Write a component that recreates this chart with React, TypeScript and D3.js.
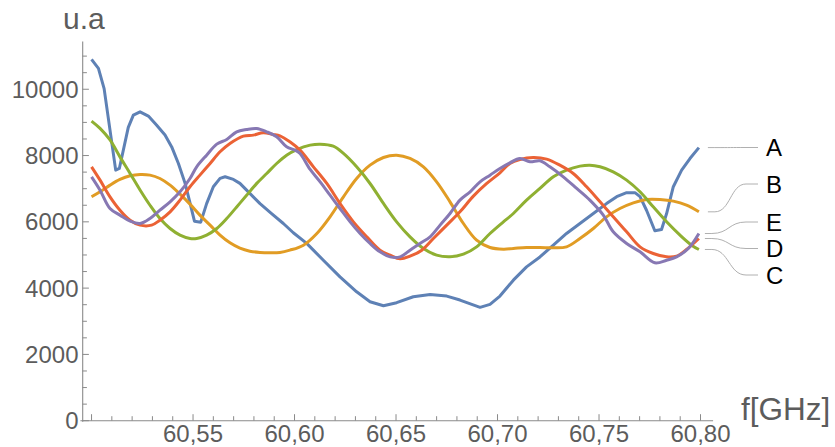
import React from "react";
import * as d3 from "d3";

// ---- data (f in GHz, value in u.a) ----
const seriesNames = ["A", "B", "C", "D", "E"];
const seriesColors = ["#5E81B5", "#E19C24", "#8FB032", "#EB6235", "#8778B3"];

const seriesA: [number, number][] = [
  [60.5, 10900], [60.5034, 10630], [60.5062, 10020], [60.5119, 7560], [60.5137, 7610],
  [60.5181, 8850], [60.5206, 9220], [60.5239, 9320], [60.528, 9190], [60.532, 8920],
  [60.5362, 8620], [60.5395, 8260], [60.5428, 7760], [60.5461, 7160], [60.5486, 6550],
  [60.5507, 6020], [60.5538, 5990], [60.5567, 6550], [60.56, 7060], [60.5633, 7310],
  [60.5658, 7360], [60.5699, 7280], [60.5731, 7160], [60.5781, 6850], [60.583, 6550],
  [60.5887, 6250], [60.5945, 5950], [60.5994, 5670], [60.606, 5350], [60.6142, 4840],
  [60.6224, 4340], [60.6306, 3890], [60.6372, 3590], [60.6438, 3470], [60.6503, 3560],
  [60.6585, 3740], [60.6668, 3810], [60.675, 3760], [60.6815, 3640], [60.6873, 3510],
  [60.6914, 3420], [60.6963, 3510], [60.7012, 3760], [60.7078, 4240], [60.7143, 4640],
  [60.7209, 4940], [60.7275, 5300], [60.734, 5650], [60.7406, 5950], [60.7472, 6250],
  [60.7537, 6550], [60.7587, 6760], [60.7636, 6880], [60.7677, 6880], [60.7702, 6760],
  [60.7734, 6350], [60.7775, 5730], [60.7808, 5770], [60.7833, 6250], [60.7866, 7060],
  [60.7907, 7560], [60.7948, 7910], [60.7992, 8240],
];

const seriesB: [number, number][] = [
  [60.5, 6755], [60.5042, 6906], [60.5091, 7107], [60.514, 7278], [60.519, 7389],
  [60.5239, 7429], [60.5288, 7409], [60.5337, 7308], [60.5387, 7107], [60.5436, 6835],
  [60.5485, 6534], [60.5534, 6202], [60.5584, 5900], [60.5633, 5598], [60.5682, 5366],
  [60.5731, 5206], [60.578, 5115], [60.583, 5075], [60.5879, 5065], [60.5928, 5075],
  [60.5977, 5145], [60.6044, 5296], [60.611, 5648], [60.6175, 6151], [60.6241, 6755],
  [60.6306, 7308], [60.6372, 7710], [60.6438, 7942], [60.6503, 8012], [60.6569, 7912],
  [60.6635, 7660], [60.67, 7208], [60.6766, 6604], [60.6832, 5950], [60.6897, 5447],
  [60.6963, 5226], [60.7029, 5175], [60.7078, 5196], [60.7143, 5226], [60.7209, 5226],
  [60.7275, 5216], [60.734, 5246], [60.7406, 5497], [60.7472, 5799], [60.7537, 6151],
  [60.7603, 6403], [60.7669, 6574], [60.7734, 6674], [60.78, 6674], [60.7866, 6624],
  [60.7931, 6503], [60.7992, 6302],
];

const seriesC: [number, number][] = [
  [60.5, 9040], [60.5042, 8820], [60.5091, 8470], [60.514, 7960], [60.519, 7460],
  [60.5239, 6960], [60.5288, 6500], [60.5337, 6100], [60.5387, 5800], [60.5436, 5600],
  [60.5485, 5500], [60.5518, 5500], [60.5567, 5600], [60.5617, 5800], [60.5666, 6100],
  [60.5715, 6450], [60.5764, 6800], [60.5814, 7160], [60.5863, 7460], [60.5912, 7760],
  [60.5961, 8010], [60.6011, 8180], [60.6077, 8314], [60.6126, 8344], [60.6191, 8284],
  [60.6241, 8063], [60.6306, 7660], [60.6372, 7157], [60.6438, 6554], [60.6503, 6000],
  [60.6569, 5548], [60.6635, 5196], [60.67, 4994], [60.6766, 4944], [60.6832, 5025],
  [60.6897, 5246], [60.6963, 5648], [60.7029, 6000], [60.7078, 6252], [60.7143, 6654],
  [60.7209, 7007], [60.7275, 7358], [60.734, 7560], [60.7406, 7680], [60.7455, 7710],
  [60.7505, 7660], [60.757, 7509], [60.7636, 7258], [60.7702, 6906], [60.7767, 6453],
  [60.7833, 6000], [60.7899, 5598], [60.7956, 5296], [60.7992, 5166],
];

const seriesD: [number, number][] = [
  [60.5, 7660], [60.5042, 7258], [60.5091, 6755], [60.514, 6352], [60.519, 6050],
  [60.5239, 5900], [60.5296, 5900], [60.5337, 6050], [60.5387, 6302], [60.5436, 6654],
  [60.5485, 7057], [60.5534, 7409], [60.5584, 7761], [60.5633, 8113], [60.5682, 8364],
  [60.5748, 8586], [60.5797, 8616], [60.5846, 8686], [60.5895, 8636], [60.5928, 8596],
  [60.5977, 8415], [60.6027, 8163], [60.6093, 7660], [60.6159, 7157], [60.6224, 6554],
  [60.629, 6000], [60.6356, 5548], [60.6421, 5145], [60.6471, 4994], [60.652, 4884],
  [60.6569, 4964], [60.6627, 5145], [60.6684, 5497], [60.675, 5900], [60.6815, 6302],
  [60.6881, 6775], [60.6947, 7157], [60.7012, 7480], [60.7061, 7761], [60.711, 7881],
  [60.7176, 7942], [60.7242, 7892], [60.7307, 7710], [60.7373, 7459], [60.7439, 7057],
  [60.7505, 6604], [60.757, 6151], [60.7636, 5699], [60.7702, 5246], [60.7767, 5045],
  [60.7833, 4944], [60.7882, 4964], [60.7931, 5166], [60.7992, 5497],
];

const seriesE: [number, number][] = [
  [60.5, 7358], [60.5042, 6956], [60.5091, 6403], [60.514, 6202], [60.519, 6020],
  [60.5239, 5950], [60.5288, 6101], [60.5337, 6352], [60.5387, 6604], [60.5436, 6906],
  [60.5485, 7308], [60.5518, 7660], [60.5567, 8012], [60.5617, 8344], [60.5666, 8485],
  [60.5715, 8716], [60.5764, 8787], [60.5814, 8817], [60.5863, 8716], [60.5912, 8566],
  [60.5961, 8264], [60.6002, 8163], [60.6027, 8063], [60.6077, 7580], [60.6126, 7208],
  [60.6175, 6805], [60.6224, 6403], [60.6274, 6000], [60.6323, 5648], [60.6372, 5347],
  [60.6421, 5095], [60.6471, 4944], [60.652, 4944], [60.6569, 5145], [60.6618, 5347],
  [60.6668, 5548], [60.6717, 5900], [60.6766, 6252], [60.6815, 6654], [60.6865, 6906],
  [60.6914, 7208], [60.6963, 7409], [60.7012, 7610], [60.7061, 7781], [60.711, 7912],
  [60.716, 7811], [60.7209, 7841], [60.7258, 7660], [60.7324, 7358], [60.739, 7007],
  [60.7455, 6654], [60.7521, 6202], [60.757, 5699], [60.7636, 5347], [60.7702, 5095],
  [60.7775, 4763], [60.7833, 4843], [60.7882, 4944], [60.794, 5196], [60.7992, 5648],
];

const allSeries = [seriesA, seriesB, seriesC, seriesD, seriesE];

const xMajorTicks = [60.55, 60.6, 60.65, 60.7, 60.75, 60.8];
const xTickLabels = ["60,55", "60,60", "60,65", "60,70", "60,75", "60,80"];
const yMajorTicks = [0, 2000, 4000, 6000, 8000, 10000];
const yTickLabels = ["0", "2000", "4000", "6000", "8000", "10000"];
const xLabel = "f[GHz]";
const yLabel = "u.a";

// label y positions (layout) for legend letters, in order A..E
const labelY = [147.5, 184, 275, 248.5, 222];

export default function App() {
  const W = 835;
  const H = 447;
  const x = d3.scaleLinear().domain([60.4955, 60.8062]).range([82.4, 713.1]);
  const y = d3.scaleLinear().domain([0, 11450]).range([420.7, 41.2]);
  const x0 = x(60.4955);
  const y0 = y(0);

  const xMinor = d3.range(0, 31).map((i) => 60.5 + i * 0.01);
  const yMinor = d3.range(0, 23).map((i) => i * 500);

  const lineLinear = d3
    .line<[number, number]>()
    .x((d) => x(d[0]))
    .y((d) => y(d[1]))
    .curve(d3.curveLinear);
  const lineSmooth = d3
    .line<[number, number]>()
    .x((d) => x(d[0]))
    .y((d) => y(d[1]))
    .curve(d3.curveCatmullRom.alpha(0.5));

  const axisColor = "#8a8a8a";
  const textColor = "#5c5c5c";
  const font = "'Liberation Sans', Arial, sans-serif";

  return (
    <svg
      width={W}
      height={H}
      style={{ position: "absolute", left: 0, top: 0, display: "block", background: "#fff" }}
      fontFamily={font}
    >
      {/* axes */}
      <line x1={x0 - 2} x2={713.1} y1={y0} y2={y0} stroke={axisColor} strokeWidth={1.1} />
      <line x1={x0 + 0.3} x2={x0 + 0.3} y1={y0 + 1} y2={41.5} stroke={axisColor} strokeWidth={1.1} />

      {xMinor.map((f, i) => {
        const major = i % 5 === 0;
        return (
          <line
            key={"xt" + i}
            x1={x(f)}
            x2={x(f)}
            y1={y0}
            y2={y0 - (major ? 6.5 : 4.5)}
            stroke={axisColor}
            strokeWidth={1}
          />
        );
      })}
      {yMinor.map((v, i) => {
        const major = i % 4 === 0;
        return (
          <line
            key={"yt" + i}
            x1={x0}
            x2={x0 + (major ? 6.5 : 4.5)}
            y1={y(v)}
            y2={y(v)}
            stroke={axisColor}
            strokeWidth={1}
          />
        );
      })}

      {xMajorTicks.map((f, i) => (
        <text
          key={"xl" + i}
          x={x(f)}
          y={442}
          textAnchor="middle"
          fontSize={24}
          fill={textColor}
        >
          {xTickLabels[i]}
        </text>
      ))}
      {yMajorTicks.map((v, i) => (
        <text
          key={"yl" + i}
          x={78.5}
          y={y(v) + 8.6}
          textAnchor="end"
          fontSize={24}
          fill={textColor}
        >
          {yTickLabels[i]}
        </text>
      ))}

      <text x={63} y={29} fontSize={30} fill={textColor}>
        {yLabel}
      </text>
      <text x={741} y={420} fontSize={31.5} fill={textColor}>
        {xLabel}
      </text>

      {/* series */}
      {allSeries.map((s, i) => (
        <path
          key={"s" + i}
          d={(i === 0 ? lineLinear(s) : lineSmooth(s)) || ""}
          fill="none"
          stroke={seriesColors[i]}
          strokeWidth={3}
          strokeLinejoin="round"
          strokeLinecap="butt"
        />
      ))}

      {/* callout labels */}
      {allSeries.map((s, i) => {
        const last = s[s.length - 1];
        const sx = x(last[0]) + (i < 2 ? 9 : 6);
        const sy = y(last[1]);
        const ty = labelY[i];
        const a = sx + 7;
        const b = 746;
        const e = 758;
        const mid = (a + b) / 2;
        const d = `M${sx},${sy} L${a},${sy} C${mid},${sy} ${mid},${ty} ${b},${ty} L${e},${ty}`;
        return (
          <g key={"lab" + i}>
            <path d={d} fill="none" stroke="#b0b0b0" strokeWidth={1} />
            <text x={766} y={ty + 8.6} fontSize={24} fill="#000">
              {seriesNames[i]}
            </text>
          </g>
        );
      })}
    </svg>
  );
}
